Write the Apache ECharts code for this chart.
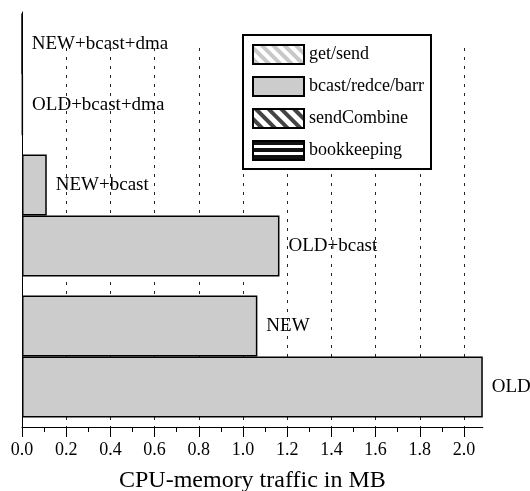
<!DOCTYPE html>
<html>
<head>
<meta charset="utf-8">
<script src="https://cdn.jsdelivr.net/npm/echarts@6/dist/echarts.min.js"></script>
<style>html,body{margin:0;padding:0;background:#fff}#c{width:530px;height:491px}</style>
</head>
<body>
<div id="c"></div>
<script>
// ---- data ----
const groups = ['base', '+bcast', '+bcast+dma'];
const oldLabels = ['OLD', 'OLD+bcast', 'OLD+bcast+dma'];
const newLabels = ['NEW', 'NEW+bcast', 'NEW+bcast+dma'];
const oldValues = [2.085, 1.165, 0.003];
const newValues = [1.065, 0.112, 0];
const legendNames = ['get/send', 'bcast/redce/barr', 'sendCombine', 'bookkeeping'];
const tickMax = 2.0;
const tickInterval = 0.2;
const axisTitle = 'CPU-memory traffic in MB';

// ---- layout ----
const W = 530, H = 491;
const plotLeft = 22, tickMaxPx = 464, axisY = 427;
const pxPerUnit = (tickMaxPx - plotLeft) / tickMax;
const dataMax = Math.max(...oldValues, ...newValues);
const right0 = W - (plotLeft + dataMax * pxPerUnit);
const FONT = 'Liberation Serif';

const chart = echarts.init(document.getElementById('c'), null, {renderer: 'canvas'});

const barStyle = {color: '#cccccc', borderColor: '#000', borderWidth: 1.5};
const labelStyle = (names) => ({
  show: true, position: 'right', distance: 9,
  fontFamily: FONT, fontSize: 19, color: '#000',
  formatter: p => names[p.dataIndex]
});

const stripe = (color, decalColor, rot, dy) => ({
  color: color, borderColor: '#000', borderWidth: 1,
  decal: {symbol: 'rect', color: decalColor, dashArrayX: [1, 0], dashArrayY: dy, rotation: rot, symbolSize: 1}
});

const option = {
  backgroundColor: '#fff',
  animation: false,
  grid: [
    {left: plotLeft, right: right0, top: 4, bottom: H - axisY, outerBoundsMode: 'none', containLabel: false},
    {left: plotLeft, right: right0, top: 12, bottom: H - axisY, outerBoundsMode: 'none', containLabel: false},
    {left: plotLeft, right: W - tickMaxPx, top: 48, bottom: H - axisY, outerBoundsMode: 'none', containLabel: false}
  ],
  xAxis: [
    {type: 'value', gridIndex: 0, min: 0, max: dataMax,
     axisLine: {show: true, lineStyle: {color: '#000', width: 1}},
     axisTick: {show: false}, axisLabel: {show: false}, splitLine: {show: false},
     name: axisTitle, nameLocation: 'middle', nameGap: 42,
     nameTextStyle: {fontFamily: FONT, fontSize: 24, color: '#000'}},
    {type: 'value', gridIndex: 1, min: 0, max: 1, show: false},
    {type: 'value', gridIndex: 2, min: 0, max: tickMax, interval: tickInterval,
     axisLine: {show: false},
     axisTick: {show: true, length: 10, lineStyle: {color: '#000', width: 1}},
     minorTick: {show: true, splitNumber: 2, length: 5, lineStyle: {color: '#000', width: 1}},
     axisLabel: {show: true, margin: 14, fontFamily: FONT, fontSize: 18, color: '#000',
                 formatter: v => v.toFixed(1)},
     splitLine: {show: true, lineStyle: {color: '#222', width: 1, type: [3, 6]}},
     minorSplitLine: {show: false}}
  ],
  yAxis: [
    {type: 'category', gridIndex: 0, data: groups,
     axisLine: {show: false}, axisTick: {show: false}, axisLabel: {show: false}, splitLine: {show: false}},
    {type: 'value', gridIndex: 1, min: 0, max: 1,
     axisLine: {show: true, lineStyle: {color: '#000', width: 1}},
     axisTick: {show: false}, axisLabel: {show: false}, splitLine: {show: false}},
    {type: 'value', gridIndex: 2, min: 0, max: 1, show: false}
  ],
  legend: {
    data: legendNames,
    icon: 'rect',
    orient: 'vertical', left: 243, top: 35,
    padding: [9, 4, 8, 9],
    itemWidth: 51, itemHeight: 19, itemGap: 11,
    backgroundColor: '#fff', borderColor: '#000', borderWidth: 2, borderRadius: 0,
    textStyle: {fontFamily: FONT, fontSize: 18, color: '#000', width: 118, lineHeight: 19},
    selectedMode: false
  },
  series: [
    {name: 'bcast/redce/barr', type: 'bar', xAxisIndex: 0, yAxisIndex: 0, stack: 'new',
     data: newValues, itemStyle: barStyle, label: labelStyle(newLabels),
     barGap: '0%', barCategoryGap: '13.5%'},
    {name: 'bcast/redce/barr', type: 'bar', xAxisIndex: 0, yAxisIndex: 0, stack: 'old',
     data: oldValues, itemStyle: barStyle, label: labelStyle(oldLabels),
     barGap: '0%', barCategoryGap: '13.5%'},
    {name: 'get/send', type: 'bar', xAxisIndex: 0, yAxisIndex: 0, stack: 'old', data: [],
     itemStyle: stripe('#ffffff', '#c8c8c8', Math.PI / 4, [4, 4])},
    {name: 'sendCombine', type: 'bar', xAxisIndex: 0, yAxisIndex: 0, stack: 'old', data: [],
     itemStyle: stripe('#444444', '#ffffff', Math.PI / 4, [5, 4])},
    {name: 'bookkeeping', type: 'bar', xAxisIndex: 0, yAxisIndex: 0, stack: 'old', data: [],
     itemStyle: stripe('#ffffff', '#111111', 0, [4, 3])}
  ]
};
chart.setOption(option);
</script>
</body>
</html>
